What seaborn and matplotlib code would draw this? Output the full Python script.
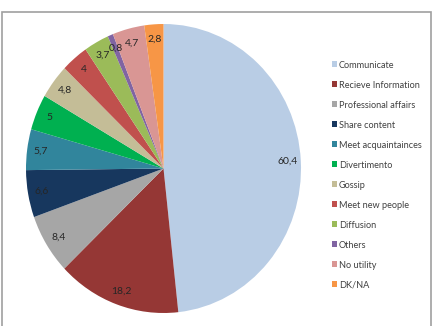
import matplotlib
matplotlib.use("Agg")
import matplotlib.pyplot as plt
import seaborn as sns

# === Daten ===
categories = ["Communicate", "Recieve Information", "Professional affairs",
              "Share content", "Meet acquaintainces", "Divertimento", "Gossip",
              "Meet new people", "Diffusion", "Others", "No utility", "DK/NA"]
values = [60.4, 18.2, 8.4, 6.6, 5.7, 5.0, 4.8, 4.0, 3.7, 0.8, 4.7, 2.8]
value_labels = ["60,4", "18,2", "8,4", "6,6", "5,7", "5", "4,8", "4",
                "3,7", "0,8", "4,7", "2,8"]
colors = ["#B9CDE5", "#953735", "#A6A6A6", "#17375E", "#31859C", "#00B050",
          "#C4BD97", "#C0504D", "#9BBB59", "#8064A2", "#D99694", "#F79646"]

sns.set_style("white")
plt.rcParams["font.family"] = ["Lato", "DejaVu Sans"]

W, H = 436, 326
fig = plt.figure(figsize=(W / 100, H / 100), dpi=100)

# Pie-Achse (leicht elliptisch wie im Original)
left, right, top, bottom = 26, 301, 24, 313
ax = fig.add_axes([left / W, (H - bottom) / H, (right - left) / W, (bottom - top) / H])

wedges, texts = ax.pie(
    values,
    colors=colors,
    labels=value_labels,
    labeldistance=0.9,
    startangle=90,
    counterclock=False,
    wedgeprops={"linewidth": 0},
    textprops={"fontsize": 7.5, "color": "#262626"},
)
for t in texts:
    t.set_ha("center")
    t.set_va("center")
ax.set_aspect("auto")
ax.set_xlim(-1, 1)
ax.set_ylim(-1, 1)
ax.axis("off")

# Legende
fig.legend(
    wedges, categories,
    loc="upper left",
    bbox_to_anchor=(327 / W, (H - 56) / H),
    frameon=False,
    fontsize=6.6,
    handlelength=0.6,
    handleheight=0.6,
    handletextpad=0.2,
    labelspacing=1.2,
    borderpad=0,
    labelcolor="#404040",
)

# Rahmen
fig.add_artist(plt.Rectangle((1.5 / W, -0.1), (431 - 1.5) / W, 0.1 + (H - 11.5) / H,
                             transform=fig.transFigure, fill=False,
                             edgecolor="#A0A0A0", linewidth=1.2))

fig.savefig("out.png", dpi=100)
